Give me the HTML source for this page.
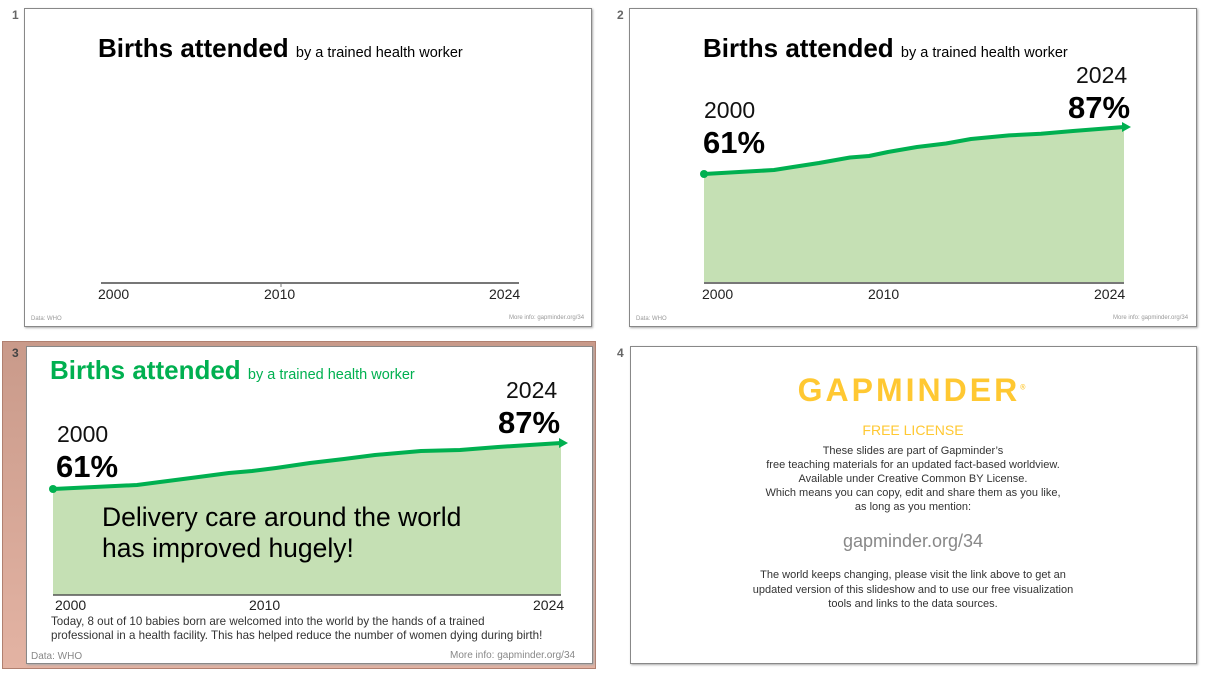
<!DOCTYPE html>
<html><head><meta charset="utf-8"><style>
body{margin:0;width:1205px;height:678px;background:#fff;position:relative;overflow:hidden;font-family:"Liberation Sans",sans-serif}
.a{position:absolute;white-space:nowrap}
.slide{position:absolute;background:#fff;border:1px solid #888;box-shadow:1px 1px 2px #aaa}
.num{position:absolute;font-size:12px;font-weight:bold;color:#666}
</style></head><body>
<div class="a" style="left:2px;top:341px;width:592px;height:326px;background:linear-gradient(#c99a8a,#e3b3a3);border:1px solid #b08070"></div>
<div class="num" style="left:12px;top:8px">1</div>
<div class="num" style="left:617px;top:8px">2</div>
<div class="num" style="left:12px;top:346px;color:#444">3</div>
<div class="num" style="left:617px;top:346px">4</div>
<div class="slide" style="left:24px;top:8px;width:566px;height:317px"></div>
<div class="slide" style="left:629px;top:8px;width:566px;height:317px"></div>
<div class="slide" style="left:26px;top:346px;width:565px;height:316px"></div>
<div class="slide" style="left:630px;top:346px;width:565px;height:316px"></div>

<svg class="a" style="left:0;top:0" width="1205" height="678">
<line x1="101" y1="283" x2="519" y2="283" stroke="#777" stroke-width="2"/>
<line x1="281" y1="283" x2="281" y2="287" stroke="#777"/>
<polygon fill="#c5e0b4" points="704,283 704,174 774,170 793,167 819,163 850,157.5 869,156 888,152 917,147 946,143.5 971,139 1009,135.4 1041,133.7 1073,131 1124,127 1124,283"/>
<line x1="704" y1="283" x2="1124" y2="283" stroke="#777" stroke-width="2"/>
<polyline fill="none" stroke="#00b050" stroke-width="4" stroke-linejoin="round" points="704,174 774,170 793,167 819,163 850,157.5 869,156 888,152 917,147 946,143.5 971,139 1009,135.4 1041,133.7 1073,131 1124,127"/>
<polygon fill="#00b050" points="1122,122 1131,127 1122,132"/>
<circle cx="704" cy="174" r="4" fill="#00b050"/>
<polygon fill="#c5e0b4" points="53,595 53,489 137,485 160,482 191,478 229,473 252,471 276,468 310,463 344,459 375,455 421,451 460,450 498,447 561,443 561,595"/>
<line x1="53" y1="595" x2="561" y2="595" stroke="#555" stroke-width="1.5"/>
<polyline fill="none" stroke="#00b050" stroke-width="4" stroke-linejoin="round" points="53,489 137,485 160,482 191,478 229,473 252,471 276,468 310,463 344,459 375,455 421,451 460,450 498,447 561,443"/>
<polygon fill="#00b050" points="559,438 568,443 559,448"/>
<circle cx="53" cy="489" r="4" fill="#00b050"/>
</svg>

<div class="a" style="left:98px;top:33px;font-size:26px;font-weight:bold;color:#000">Births attended <span style="font-size:14.5px;font-weight:normal">by a trained health worker</span></div>
<div class="a" style="left:98px;top:286px;font-size:14px;color:#222">2000</div>
<div class="a" style="left:264px;top:286px;font-size:14px;color:#222">2010</div>
<div class="a" style="left:489px;top:286px;font-size:14px;color:#222">2024</div>
<div class="a" style="left:31px;top:316px;font-size:6px;color:#999">Data: WHO</div>
<div class="a" style="left:509px;top:315px;font-size:6px;color:#999">More info: gapminder.org/34</div>

<div class="a" style="left:703px;top:33px;font-size:26px;font-weight:bold;color:#000">Births attended <span style="font-size:14.5px;font-weight:normal">by a trained health worker</span></div>
<div class="a" style="left:1076px;top:62px;font-size:23px;color:#111">2024</div>
<div class="a" style="left:1068px;top:90px;font-size:31px;font-weight:bold;color:#000">87%</div>
<div class="a" style="left:704px;top:97px;font-size:23px;color:#111">2000</div>
<div class="a" style="left:703px;top:125px;font-size:31px;font-weight:bold;color:#000">61%</div>
<div class="a" style="left:702px;top:286px;font-size:14px;color:#222">2000</div>
<div class="a" style="left:868px;top:286px;font-size:14px;color:#222">2010</div>
<div class="a" style="left:1094px;top:286px;font-size:14px;color:#222">2024</div>
<div class="a" style="left:636px;top:316px;font-size:6px;color:#999">Data: WHO</div>
<div class="a" style="left:1113px;top:315px;font-size:6px;color:#999">More info: gapminder.org/34</div>

<div class="a" style="left:50px;top:355px;font-size:26px;font-weight:bold;color:#00b050">Births attended <span style="font-size:14.5px;font-weight:normal">by a trained health worker</span></div>
<div class="a" style="left:506px;top:377px;font-size:23px;color:#111">2024</div>
<div class="a" style="left:498px;top:405px;font-size:31px;font-weight:bold;color:#000">87%</div>
<div class="a" style="left:57px;top:421px;font-size:23px;color:#111">2000</div>
<div class="a" style="left:56px;top:449px;font-size:31px;font-weight:bold;color:#000">61%</div>
<div class="a" style="left:102px;top:502px;font-size:26.5px;line-height:31px;color:#000">Delivery care around the world<br>has improved hugely!</div>
<div class="a" style="left:55px;top:597px;font-size:14px;color:#222">2000</div>
<div class="a" style="left:249px;top:597px;font-size:14px;color:#222">2010</div>
<div class="a" style="left:533px;top:597px;font-size:14px;color:#222">2024</div>
<div class="a" style="left:51px;top:615px;font-size:11.6px;line-height:14px;color:#333">Today, 8 out of 10 babies born are welcomed into the world by the hands of a trained<br>professional in a health facility. This has helped reduce the number of women dying during birth!</div>
<div class="a" style="left:31px;top:651px;font-size:10px;color:#888">Data: WHO</div>
<div class="a" style="left:450px;top:650px;font-size:10px;color:#888">More info: gapminder.org/34</div>

<div class="a" style="left:630px;top:372px;width:566px;text-align:center;font-size:32px;font-weight:900;color:#ffc832;letter-spacing:3px">GAPMINDER<sup style="font-size:7px">®</sup></div>
<div class="a" style="left:630px;top:422px;width:566px;text-align:center;font-size:14px;color:#ffc832">FREE LICENSE</div>
<div class="a" style="left:630px;top:444px;width:566px;text-align:center;font-size:11px;line-height:14px;color:#333">These slides are part of Gapminder’s<br>free teaching materials for an updated fact-based worldview.<br>Available under Creative Common BY License.<br>Which means you can copy, edit and share them as you like,<br>as long as you mention:</div>
<div class="a" style="left:630px;top:531px;width:566px;text-align:center;font-size:18px;color:#888">gapminder.org/34</div>
<div class="a" style="left:630px;top:568px;width:566px;text-align:center;font-size:11px;line-height:14.5px;color:#333">The world keeps changing, please visit the link above to get an<br>updated version of this slideshow and to use our free visualization<br>tools and links to the data sources.</div>
</body></html>
